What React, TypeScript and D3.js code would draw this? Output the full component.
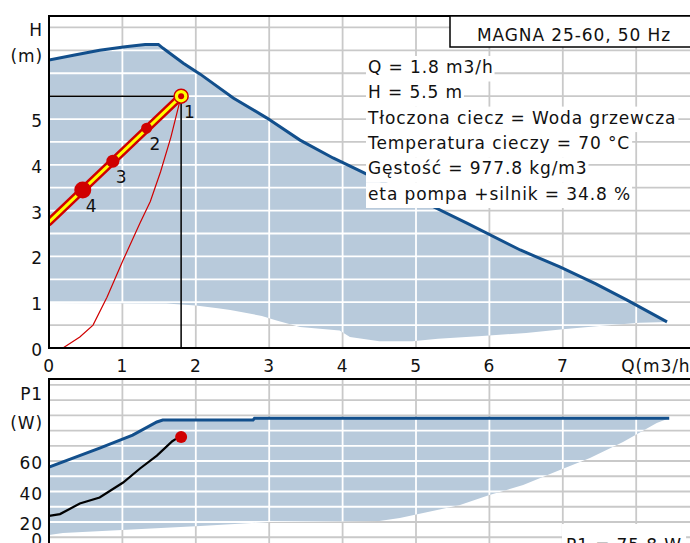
import { useEffect, useRef } from 'react'
import { select, scaleLinear, line, range } from 'd3'

// pump curve, max speed (Q m3/h, H m)
const maxHead: [number, number][] = [
  [0, 6.29], [0.35, 6.4], [0.69, 6.5], [1.04, 6.58], [1.31, 6.63], [1.49, 6.63], [1.55, 6.55],
  [1.83, 6.22], [2.06, 5.98], [2.51, 5.46], [2.97, 5.02], [3.42, 4.54], [3.87, 4.15],
  [4.3, 3.82], [5.0, 3.27], [5.7, 2.72], [6.42, 2.14], [6.96, 1.77], [7.45, 1.4],
  [7.87, 1.05], [8.42, 0.57],
]
// pump curve, min speed
const minHead: [number, number][] = [
  [0, 0.98], [1.6, 0.97], [2.0, 0.93], [2.3, 0.87], [2.47, 0.83], [2.9, 0.7], [3.1, 0.6],
  [3.42, 0.46], [3.96, 0.38], [4.1, 0.24], [4.5, 0.15], [4.95, 0.15], [5.3, 0.2],
  [5.9, 0.26], [6.5, 0.33], [7.0, 0.41], [7.5, 0.48], [8.05, 0.55], [8.42, 0.57],
]
// system curve
const systemCurve: [number, number][] = [
  [0, 0], [0.19, 0], [0.42, 0.24], [0.6, 0.5], [0.79, 1.11], [1.01, 1.92], [1.24, 2.73],
  [1.38, 3.2], [1.52, 3.85], [1.66, 4.6], [1.8, 5.5],
]
// proportional pressure control line
const controlLine: [number, number][] = [[0, 2.75], [1.8, 5.5]]
const markerQ = [1.8, 1.33, 0.87, 0.46]
const markerH = [5.5, 4.8, 4.08, 3.45]
const markerLabels = ['1', '2', '3', '4']
const markerSizes = [7, 5.5, 6.5, 8.5]
const dutyQ = 1.8
const dutyH = 5.5

// power (Q m3/h, P1 W)
const maxPower: [number, number][] = [
  [0, 56], [0.69, 68.5], [1.14, 77], [1.47, 85.6], [1.55, 86.9], [2.78, 86.9], [2.8, 88], [8.45, 88],
]
const minPower: [number, number][] = [
  [0, 11.5], [0.19, 12.8], [2.06, 17.4], [3.01, 20], [4.5, 20.7], [4.78, 22.6], [5.6, 31.1],
  [6.0, 37.7], [6.46, 44.3], [6.96, 54.1], [7.37, 62], [7.82, 72.5], [8.28, 84.9], [8.45, 88],
]
const actualPower: [number, number][] = [
  [0, 24], [0.15, 25.2], [0.42, 32.1], [0.69, 36.1], [1.01, 45.9], [1.24, 55.1],
  [1.47, 63.6], [1.68, 73], [1.73, 74.5],
]
const dutyP = 75.8

const qTicks = [0, 1, 2, 3, 4, 5, 6, 7]
const hTicks = [0, 1, 2, 3, 4, 5]
const pTicks = [0, 20, 40, 60]
const title = 'MAGNA 25-60, 50 Hz'
const infoLines = [
  'Q = 1.8 m3/h',
  'H = 5.5 m',
  'Tłoczona ciecz = Woda grzewcza',
  'Temperatura cieczy = 70 °C',
  'Gęstość = 977.8 kg/m3',
  'eta pompa +silnik = 34.8 %',
]
const powerLabel = 'P1 = 75.8 W'

const W = 690
const H = 543
const FONT = 'DejaVu Sans, sans-serif'
const FILL = '#b8cadb'
const BLUE = '#124f8c'
const GRID = '#c9c9c9'
const RED = '#d00000'

export default function App() {
  const ref = useRef<SVGSVGElement | null>(null)

  useEffect(() => {
    const svg = select(ref.current)
    svg.selectAll('*').remove()

    const x = scaleLinear().domain([0, 9]).range([49, 709.6])
    const yH = scaleLinear().domain([0, 7.25]).range([348, 16])
    const yP = scaleLinear().domain([0, 113.8]).range([552.5, 379])

    const hLine = line<[number, number]>().x((d) => x(d[0])).y((d) => yH(d[1]))
    const pLine = line<[number, number]>().x((d) => x(d[0])).y((d) => yP(d[1]))

    const defs = svg.append('defs')
    defs.append('clipPath').attr('id', 'topPlot')
      .append('rect').attr('x', 49).attr('y', 16).attr('width', W - 49).attr('height', 332)
    defs.append('clipPath').attr('id', 'botPlot')
      .append('rect').attr('x', 49).attr('y', 379).attr('width', W - 49).attr('height', H - 379)
    const topArea = hLine([...maxHead, ...[...minHead].reverse()]) + 'Z'
    const botArea = pLine([...maxPower, ...[...minPower].reverse()]) + 'Z'
    defs.append('clipPath').attr('id', 'topFill').append('path').attr('d', topArea)
    defs.append('clipPath').attr('id', 'botFill').append('path').attr('d', botArea)

    const text = (g: any, t: string, tx: number, ty: number, anchor = 'start') =>
      g.append('text')
        .attr('x', tx).attr('y', ty)
        .attr('text-anchor', anchor)
        .attr('font-family', FONT).attr('font-size', 17)
        .attr('letter-spacing', 0.9)
        .attr('fill', '#111')
        .text(t)

    const grid = (g: any, yScale: any, yVals: number[], top: number, bottom: number, color: string) => {
      range(1, 10).forEach((q) => {
        g.append('line').attr('x1', x(q)).attr('x2', x(q)).attr('y1', top).attr('y2', bottom)
          .attr('stroke', color).attr('stroke-width', 1.8)
      })
      yVals.forEach((v) => {
        g.append('line').attr('x1', 49).attr('x2', W).attr('y1', yScale(v)).attr('y2', yScale(v))
          .attr('stroke', color).attr('stroke-width', 1.8)
      })
    }

    // ---------- head chart ----------
    const top = svg.append('g').attr('clip-path', 'url(#topPlot)')
    const hGrid = range(1, 15).map((i) => i * 0.5)
    grid(top, yH, hGrid, 16, 348, GRID)
    top.append('path').attr('d', topArea).attr('fill', FILL)
    grid(top.append('g').attr('clip-path', 'url(#topFill)'), yH, hGrid, 16, 348, '#fff')
    top.append('path').attr('d', hLine(maxHead)).attr('fill', 'none')
      .attr('stroke', BLUE).attr('stroke-width', 3)
    top.append('path').attr('d', hLine(systemCurve)).attr('fill', 'none')
      .attr('stroke', RED).attr('stroke-width', 1.2)
    top.append('path')
      .attr('d', `M${x(0)},${yH(dutyH)}H${x(dutyQ)}V${yH(0)}`)
      .attr('fill', 'none').attr('stroke', '#000').attr('stroke-width', 1.5)
    top.append('path').attr('d', hLine(controlLine)).attr('fill', 'none')
      .attr('stroke', RED).attr('stroke-width', 8).attr('stroke-linecap', 'round')
    top.append('path').attr('d', hLine(controlLine)).attr('fill', 'none')
      .attr('stroke', '#ffff00').attr('stroke-width', 3)
    markerQ.forEach((q, i) => {
      const cx = x(q)
      const cy = yH(markerH[i])
      if (i === 0) {
        top.append('circle').attr('cx', cx).attr('cy', cy).attr('r', markerSizes[i])
          .attr('fill', '#ffff00').attr('stroke', RED).attr('stroke-width', 1.5)
        top.append('circle').attr('cx', cx).attr('cy', cy).attr('r', 3).attr('fill', RED)
      } else {
        top.append('circle').attr('cx', cx).attr('cy', cy).attr('r', markerSizes[i]).attr('fill', RED)
      }
      text(svg, markerLabels[i], cx + 3, cy + 22)
    })

    svg.append('path').attr('d', `M${W},16H49V348H${W}`)
      .attr('fill', 'none').attr('stroke', '#000').attr('stroke-width', 2)

    hTicks.forEach((v) => text(svg, String(v), 43, yH(v) + 8, 'end'))
    text(svg, 'H', 43, 36, 'end')
    text(svg, '(m)', 43, 62, 'end')
    qTicks.forEach((v) => text(svg, String(v), x(v), 372, 'middle'))
    text(svg, 'Q(m3/h)', x(8) - 15, 372)

    // title box
    svg.append('rect').attr('x', 450).attr('y', 16).attr('width', 260).attr('height', 31)
      .attr('fill', '#fff').attr('stroke', '#000').attr('stroke-width', 1.5)
    text(svg, title, 477, 41)

    // info block with per-line white background
    infoLines.forEach((t, i) => {
      const by = 73 + i * 25.3
      const bg = svg.append('rect').attr('fill', '#fff')
      const tn = text(svg, t, 368, by)
      const bb = (tn.node() as SVGTextElement).getBBox()
      bg.attr('x', 366).attr('y', by - 17).attr('width', bb.width + 3).attr('height', 25.5)
    })

    // ---------- power chart ----------
    const bot = svg.append('g').attr('clip-path', 'url(#botPlot)')
    const pGrid = range(1, 12).map((i) => i * 10)
    grid(bot, yP, pGrid, 379, H, GRID)
    bot.append('path').attr('d', botArea).attr('fill', FILL)
    grid(bot.append('g').attr('clip-path', 'url(#botFill)'), yP, pGrid, 379, H, '#fff')
    bot.append('path').attr('d', pLine(maxPower)).attr('fill', 'none')
      .attr('stroke', BLUE).attr('stroke-width', 3)
    bot.append('path').attr('d', pLine(actualPower)).attr('fill', 'none')
      .attr('stroke', '#000').attr('stroke-width', 2.2)
    bot.append('circle').attr('cx', x(dutyQ)).attr('cy', yP(dutyP)).attr('r', 6).attr('fill', RED)

    svg.append('path').attr('d', `M${W},379H49V${H}`)
      .attr('fill', 'none').attr('stroke', '#000').attr('stroke-width', 2)

    pTicks.forEach((v) => text(svg, String(v), 43, Math.min(yP(v) + 8, 546), 'end'))
    text(svg, 'P1', 43, 400, 'end')
    text(svg, '(W)', 43, 429, 'end')

    const pbg = svg.append('rect').attr('fill', '#fff')
    const pt = text(svg, powerLabel, 566, 551)
    const pb = (pt.node() as SVGTextElement).getBBox()
    pbg.attr('x', 562).attr('y', 524).attr('width', pb.width + 8).attr('height', 30)
  }, [])

  return (
    <svg
      ref={ref}
      width={W}
      height={H}
      style={{ position: 'absolute', left: 0, top: 0, background: '#fff' }}
    />
  )
}
